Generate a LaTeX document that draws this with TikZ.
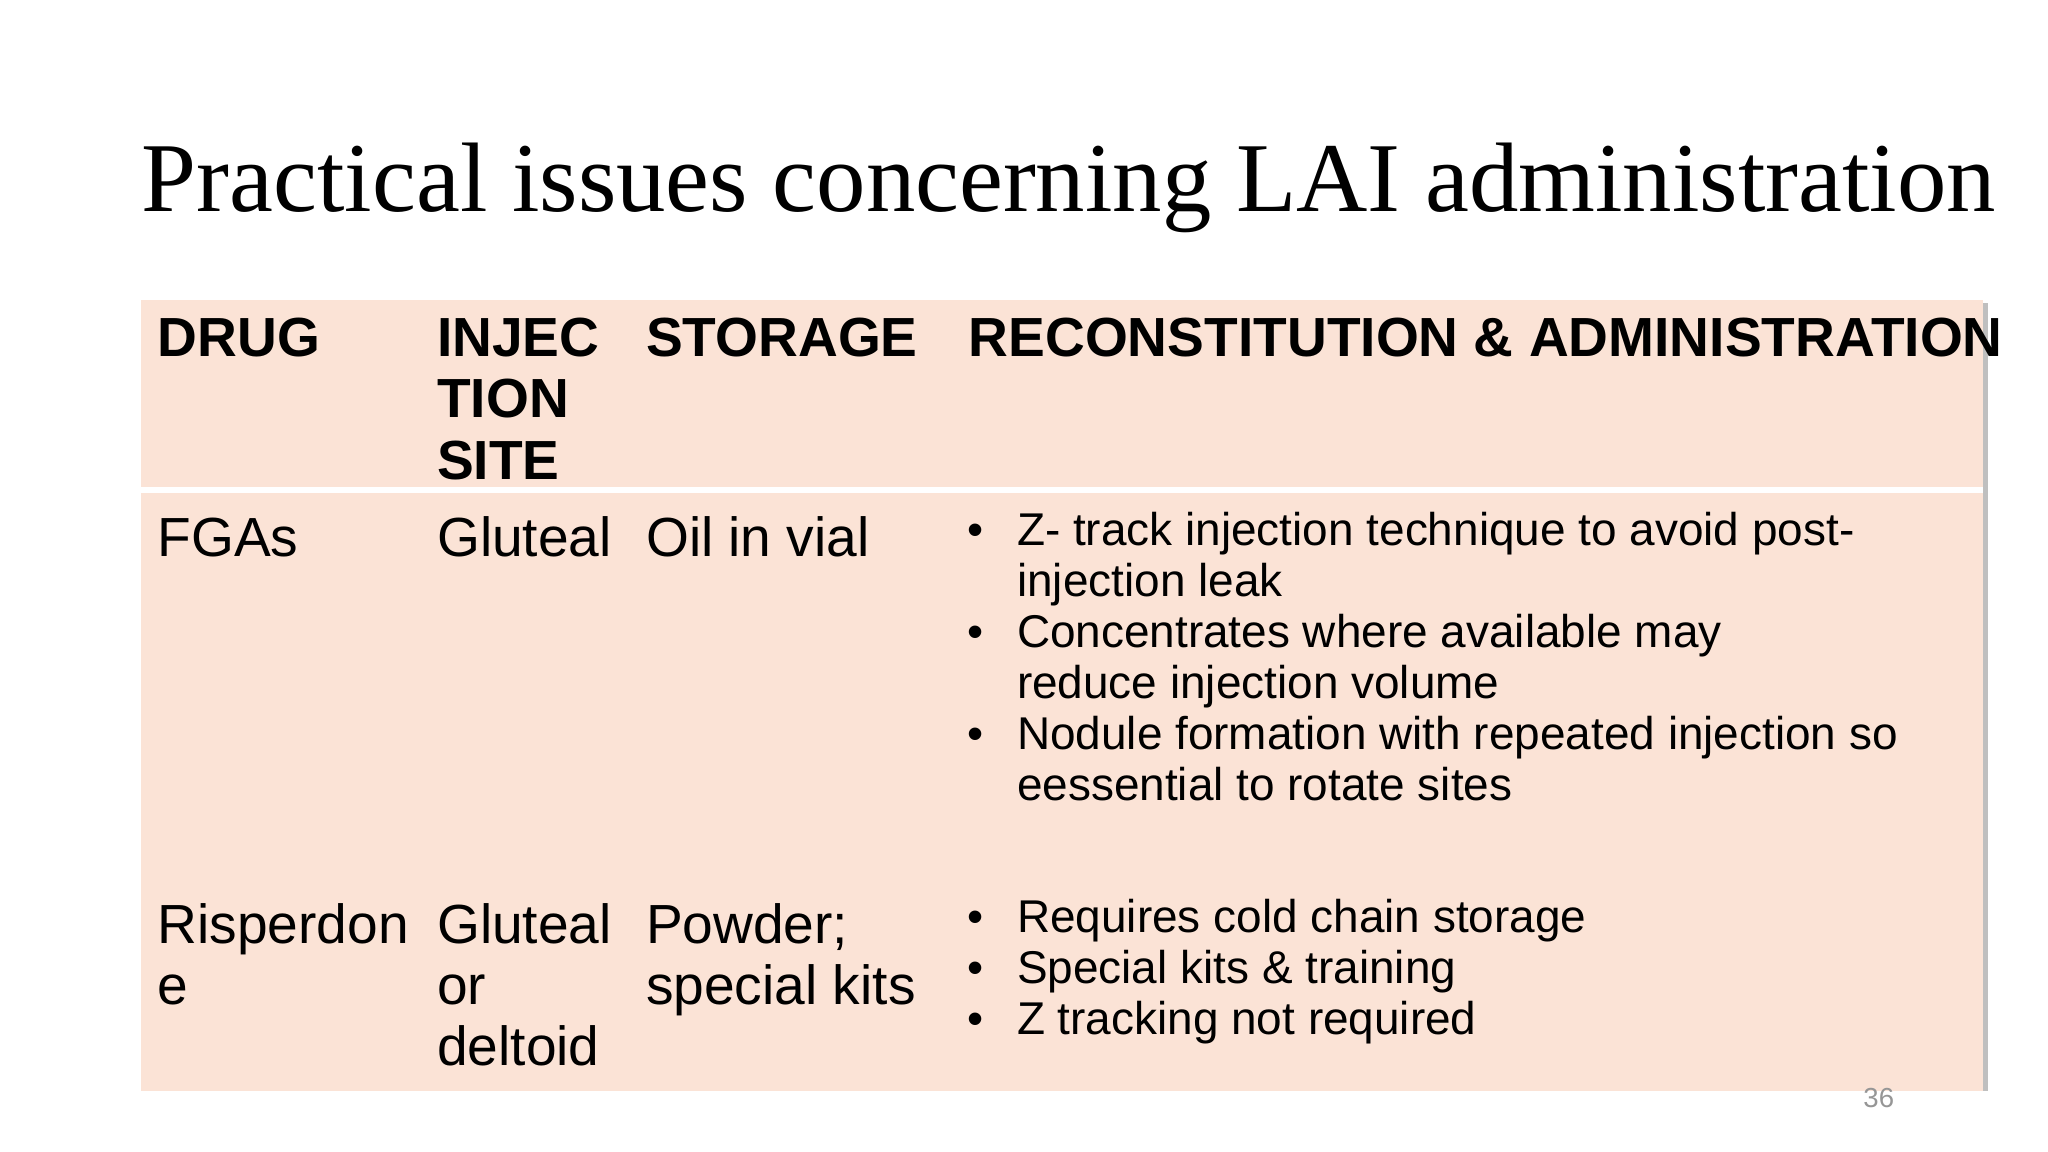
\documentclass[tikz,border=0pt]{standalone}
\usepackage{fontspec}
\setmainfont{Liberation Serif}
\setsansfont{Liberation Sans}
\definecolor{peach}{RGB}{251,227,214}
\definecolor{pagegray}{RGB}{150,150,150}
\tikzset{
  cell/.style={anchor=base west,inner sep=0pt,font=\sffamily\fontsize{12}{13.4}\selectfont},
  head/.style={cell,font=\sffamily\bfseries\fontsize{12}{13.4}\selectfont},
  item/.style={anchor=base west,inner sep=0pt,font=\sffamily\fontsize{10}{11}\selectfont},
}
\begin{document}
\begin{tikzpicture}[x=0.01cm,y=-0.01cm]
\useasboundingbox (0,0) rectangle (1568,882);
% table background
\fill[black!25] (1512,232) rectangle (1522,835);
\fill[peach] (108,230) rectangle (1518,835);
\draw[white,line width=1.2pt] (108,375) -- (1518,375);
% title
\node[anchor=base west,inner sep=0pt,font=\fontsize{21.5}{24}\selectfont] (title) at (108,162) {Practical issues concerning LAI administration};
% header row
\node[head] (hdrug) at (120,273) {DRUG};
\foreach \y/\t [count=\i] in {273/INJEC,320/TION,367/SITE}
  \node[head] (hsite\i) at (334,\y) {\t};
\node[head] (hstore) at (494,273) {STORAGE};
\node[head] (hrecon) at (741,273) {RECONSTITUTION \& ADMINISTRATION};
% FGAs row
\node[cell] (fga) at (120,426) {FGAs};
\node[cell] (fgasite) at (334,426) {Gluteal};
\node[cell] (fgastore) at (494,426) {Oil in vial};
\foreach \y/\t in {418/Z- track injection technique to avoid post-,457/injection leak,496/Concentrates where available may,535/reduce injection volume,574/Nodule formation with repeated injection so,613/eessential to rotate sites}
  \node[item] at (778,\y) {\t};
\foreach \y in {418,496,574}
  \node[item] at (740,\y) {\textbullet};
% Risperidone row
\foreach \y/\t in {722/Risperdon,769/e}
  \node[cell] at (120,\y) {\t};
\foreach \y/\t in {722/Gluteal,769/or,816/deltoid}
  \node[cell] at (334,\y) {\t};
\foreach \y/\t in {722/Powder;,769/special kits}
  \node[cell] at (494,\y) {\t};
\foreach \y/\t in {714/Requires cold chain storage,753/Special kits \& training,792/Z tracking not required} {
  \node[item] at (778,\y) {\t};
  \node[item] at (740,\y) {\textbullet};
}
\node[anchor=base west,inner sep=0pt,text=pagegray,font=\sffamily\fontsize{6}{7}\selectfont] (page) at (1426,848) {36};
\end{tikzpicture}
\end{document}
